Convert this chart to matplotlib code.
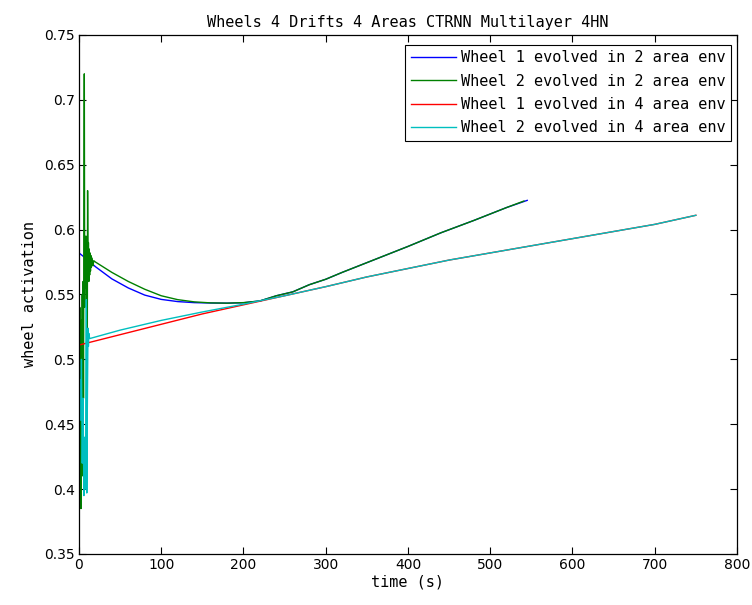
"""Wheels 4 Drifts 4 Areas CTRNN Multilayer 4HN -- wheel activation over time."""
import matplotlib
matplotlib.use("Agg")
import matplotlib.pyplot as plt

# ---------------------------------------------------------------------------
# data
# ---------------------------------------------------------------------------

# wheel 1, 2-area environment (blue)
w1_2a_t = [0, 10, 20, 40, 60, 80, 100, 120, 140, 160, 180, 200, 220, 240, 260,
           280, 300, 320, 360, 400, 440, 480, 520, 545]
w1_2a_v = [0.582, 0.577, 0.5714, 0.562, 0.555, 0.5495, 0.5462, 0.5445, 0.5437,
           0.5434, 0.5433, 0.5436, 0.545, 0.549, 0.552, 0.5575, 0.5617, 0.567,
           0.577, 0.587, 0.5975, 0.607, 0.617, 0.6225]

# wheel 2, 2-area environment (green)
w2_2a_t = [0, 0.5, 1, 1.5, 2, 2.5, 3, 3.5, 4, 4.5, 5, 5.5, 6, 6.5, 7, 7.5, 8,
           8.5, 9, 9.5, 10, 10.5, 11, 11.5, 12, 12.5, 13, 13.5, 14, 14.5, 15,
           16, 17, 18, 20, 40, 60, 80, 100, 120, 140, 160, 180, 200, 220, 240,
           260, 280, 300, 320, 360, 400, 440, 480, 520, 541]
w2_2a_v = [0.58, 0.45, 0.54, 0.40, 0.52, 0.385, 0.53, 0.41, 0.55, 0.43, 0.56,
           0.47, 0.60, 0.72, 0.54, 0.58, 0.56, 0.595, 0.555, 0.59, 0.47, 0.63,
           0.565, 0.59, 0.56, 0.585, 0.565, 0.582, 0.568, 0.58, 0.571, 0.578,
           0.572, 0.576, 0.575, 0.567, 0.560, 0.554, 0.549, 0.546, 0.5443,
           0.5435, 0.5433, 0.5437, 0.545, 0.549, 0.552, 0.5575, 0.5617, 0.567,
           0.577, 0.587, 0.5975, 0.607, 0.617, 0.622]

# wheel 1, 4-area environment (red)
w1_4a_t = [0, 50, 100, 150, 200, 250, 300, 350, 400, 450, 500, 550, 600, 650,
           700, 750]
w1_4a_v = [0.511, 0.519, 0.527, 0.535, 0.542, 0.549, 0.556, 0.5635, 0.570,
           0.5765, 0.582, 0.5875, 0.593, 0.5985, 0.604, 0.611]

# wheel 2, 4-area environment (cyan)
w2_4a_t = [0, 1, 2, 2.5, 3, 4, 5, 6, 7, 8, 9, 9.5, 10, 11, 11.5, 12, 13, 50,
           100, 150, 200, 250, 300, 350, 400, 450, 500, 550, 600, 650, 700, 750]
w2_4a_v = [0.51, 0.46, 0.484, 0.453, 0.50, 0.42, 0.47, 0.395, 0.44, 0.40,
           0.546, 0.397, 0.45, 0.524, 0.51, 0.52, 0.516, 0.5225, 0.530, 0.5365,
           0.5425, 0.549, 0.556, 0.5635, 0.570, 0.5765, 0.582, 0.5875, 0.593,
           0.5985, 0.604, 0.611]

series = [
    (w1_2a_t, w1_2a_v, "Wheel 1 evolved in 2 area env", "#0000ff"),
    (w2_2a_t, w2_2a_v, "Wheel 2 evolved in 2 area env", "#008000"),
    (w1_4a_t, w1_4a_v, "Wheel 1 evolved in 4 area env", "#ff0000"),
    (w2_4a_t, w2_4a_v, "Wheel 2 evolved in 4 area env", "#00bfbf"),
]

# ---------------------------------------------------------------------------
# plot
# ---------------------------------------------------------------------------

fig = plt.figure(figsize=(7.52, 6.05), dpi=100)
ax = fig.add_axes([0.105, 0.0843, 0.875, 0.858])

for t, v, label, color in series:
    ax.plot(t, v, color=color, linewidth=1.0, label=label)

ax.set_xlim(0, 800)
ax.set_ylim(0.35, 0.75)
ax.set_xticks(range(0, 801, 100))
ax.set_yticks([0.35, 0.4, 0.45, 0.5, 0.55, 0.6, 0.65, 0.7, 0.75])
ax.set_yticklabels(["0.35", "0.4", "0.45", "0.5", "0.55", "0.6", "0.65",
                    "0.7", "0.75"])
ax.tick_params(direction="in", top=True, right=True, length=5, width=0.8,
               labelsize=10, pad=3)
for sp in ax.spines.values():
    sp.set_linewidth(0.9)

mono = "DejaVu Sans Mono"
ax.set_title("Wheels 4 Drifts 4 Areas CTRNN Multilayer 4HN",
             family=mono, fontsize=11, pad=6)
ax.set_xlabel("time (s)", family=mono, fontsize=11, labelpad=2)
ax.set_ylabel("wheel activation", family=mono, fontsize=11, labelpad=5)

leg = ax.legend(loc="upper right", bbox_to_anchor=(0.991, 0.981),
                prop={"family": mono, "size": 11},
                handlelength=3.0, handletextpad=0.3, borderpad=0.35,
                labelspacing=0.55, fancybox=False, framealpha=1,
                borderaxespad=0)
leg.get_frame().set_edgecolor("black")
leg.get_frame().set_linewidth(0.8)

fig.savefig("out.png", dpi=100)
